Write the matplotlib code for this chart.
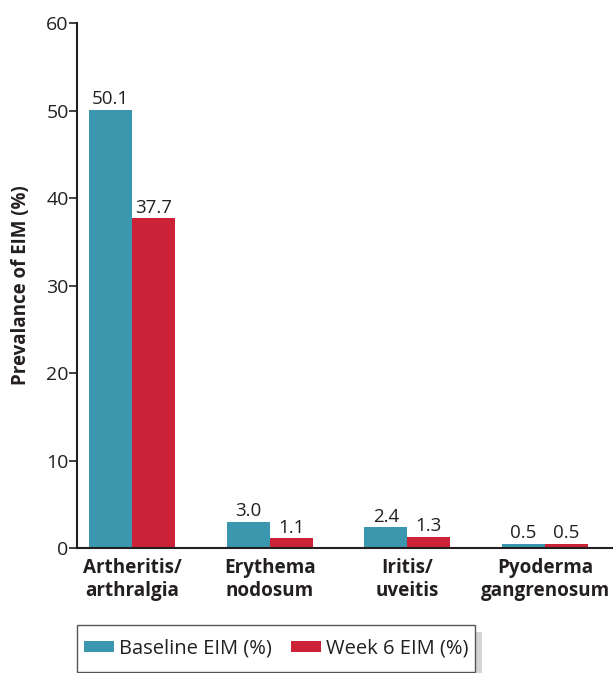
import matplotlib
matplotlib.use("Agg")
import matplotlib.pyplot as plt
import matplotlib.patches as mpatches
import numpy as np

categories = ["Artheritis/\narthralgia", "Erythema\nnodosum", "Iritis/\nuveitis", "Pyoderma\ngangrenosum"]
baseline = [50.1, 3.0, 2.4, 0.5]
week6 = [37.7, 1.1, 1.3, 0.5]
series_names = ["Baseline EIM (%)", "Week 6 EIM (%)"]
yticks = [0, 10, 20, 30, 40, 50, 60]

plt.rcParams['font.family'] = ['Open Sans', 'DejaVu Sans']
blue = "#3A97AE"
red = "#CC2237"
txt = "#231F20"

fig = plt.figure(figsize=(6.16, 6.73), dpi=100)
ax = fig.add_axes([0.125, 0.1857, 0.8685, 0.7801])

x = np.arange(len(categories))
w = 0.312
b1 = ax.bar(x - w/2, baseline, w, color=blue, label=series_names[0])
b2 = ax.bar(x + w/2, week6, w, color=red, label=series_names[1])
for bars, vals in ((b1, baseline), (b2, week6)):
    for r, v in zip(bars, vals):
        ax.text(r.get_x() + r.get_width()/2, v + 0.15, f"{v:.1f}", ha='center', va='bottom',
                fontsize=13.5, color=txt)

ax.set_xlim(-0.40, 3.486)
ax.set_ylim(0, 60)
ax.set_yticks(yticks)
ax.set_yticklabels([str(t) for t in yticks], fontsize=14, color=txt)
ax.set_xticks(x)
ax.set_xticklabels(categories, fontsize=13.6, fontweight='bold', color=txt, linespacing=1.2)
ax.tick_params(axis='x', length=0, pad=7)
ax.tick_params(axis='y', length=6, width=1.2, color=txt, pad=0, direction='out')
for s in ['top', 'right']:
    ax.spines[s].set_visible(False)
for s in ['left', 'bottom']:
    ax.spines[s].set_color(txt)
    ax.spines[s].set_linewidth(1.5)
ax.set_ylabel("Prevalance of EIM (%)", fontsize=13.5, fontweight='bold', color=txt, labelpad=11)

# legend frame and shadow
lx, lw = 77 / 616, 398 / 616
ly, lh = 1 / 673, 47 / 673
fig.patches.append(mpatches.Rectangle((lx + lw, 0.0), 7 / 616, 41 / 673, transform=fig.transFigure,
                                      facecolor="#D4D4D4", edgecolor='none', zorder=0))
fig.patches.append(mpatches.Rectangle((lx, ly), lw, lh, transform=fig.transFigure,
                                      facecolor="white", edgecolor="#555555", linewidth=1.0, zorder=1))
leg = fig.legend(handles=[b1, b2], loc='center', bbox_to_anchor=(lx + lw / 2, ly + lh / 2), ncol=2,
                 frameon=False, fontsize=14.5, handlelength=1.5, handleheight=0.45,
                 columnspacing=0.95, handletextpad=0.25, borderpad=0, borderaxespad=0)
leg.set_zorder(2)
for t in leg.get_texts():
    t.set_color(txt)

fig.savefig("out.png", dpi=100)
